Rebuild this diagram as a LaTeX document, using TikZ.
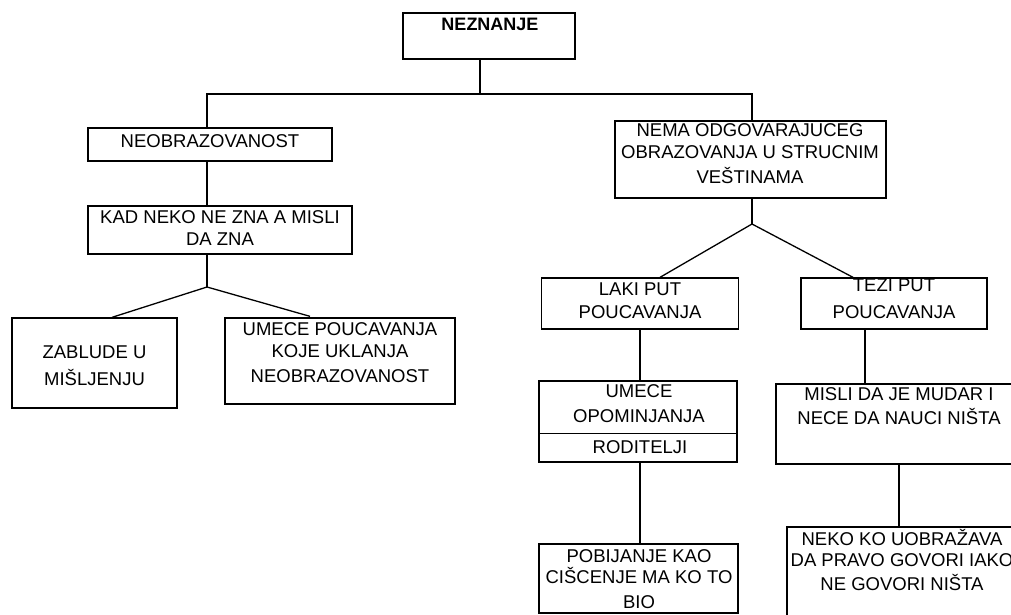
\documentclass[tikz,border=0pt]{standalone}
\usepackage{fontspec}
\setmainfont{Liberation Sans}
\begin{document}
\begin{tikzpicture}[x=1pt, y=-1pt, line width=1.3pt]

      \tikzset{box/.style={draw, rectangle, inner sep=0pt},
               lbl/.style={align=center, inner sep=0pt, font=\fontsize{18.5}{22}\selectfont}}
      \useasboundingbox (0,0) rectangle (1011,615);
%% Boxes
      	\node[box, minimum width=172, minimum height=46] (neznanje) at (489,36) {};
      	\node[box, minimum width=244, minimum height=33] (neobr) at (210,144.5) {};
      	\node[box, minimum width=264, minimum height=48] (kad) at (220,230) {};
      	\node[box, minimum width=165, minimum height=90] (zablude) at (94.5,363) {};
      	\node[box, minimum width=230, minimum height=86] (umece) at (340,361) {};
      	\node[box, minimum width=271, minimum height=77] (nema) at (750.5,159.5) {};
      	\node[box, minimum width=197, minimum height=51] (laki) at (640,303.5) {};
      	\node[box, minimum width=186, minimum height=51] (tezi) at (894,303.5) {};
      	\node[box, minimum width=198, minimum height=81] (opomin) at (638,421.5) {};
      	\node[box, minimum width=246, minimum height=80] (misli) at (899,424) {};
      	\node[box, minimum width=199, minimum height=69] (pobij) at (638.5,578.5) {};
      	\node[box, minimum width=230, minimum height=113] (neko) at (902,583.5) {};
      	\draw ([yshift=-53pt]opomin.north west) -- ([yshift=-53pt]opomin.north east);
%% Texts
      	\node[lbl, font=\fontsize{18}{22}\selectfont\bfseries] (t-neznanje) at (490,24.5) {NEZNANJE};
      	\node[lbl] (t-neobr) at (210,141.5) {NEOBRAZOVANOST};
      	\node[lbl] (t-kad) at (220,228.5) {KAD NEKO NE ZNA A MISLI\\DA ZNA};
      	\node[lbl] (t-zablude) at (94.5,365.75) {ZABLUDE U\\[4.5pt]MIŠLJENJU};
      	\node[lbl] (t-umece) at (340,352.5) {UMECE POUCAVANJA\\KOJE UKLANJA\\[3pt]NEOBRAZOVANOST};
      	\node[lbl] (t-nema) at (750,153.5) {NEMA ODGOVARAJUCEG\\OBRAZOVANJA U STRUCNIM\\[3pt]VEŠTINAMA};
      	\node[lbl] (t-laki) at (640,301) {LAKI PUT\\[1pt]POUCAVANJA};
      	\node[lbl] (t-tezi) at (894,299) {TEZI PUT\\[5pt]POUCAVANJA};
      	\node[lbl] (t-opomin) at (639,403.75) {UMECE\\[3.5pt]OPOMINJANJA};
      	\node[lbl] (t-roditelji) at (640,447.5) {RODITELJI};
      	\node[lbl] (t-misli) at (899,406.5) {MISLI DA JE MUDAR I\\[2pt]NECE DA NAUCI NIŠTA};
      	\node[lbl] (t-pobij) at (639,579) {POBIJANJE KAO\\[-1pt]CIŠCENJE MA KO TO\\[3pt]BIO};
      	\node[lbl] (t-neko) at (902,559.5) {NEKO KO UOBRAŽAVA\\[-1pt]DA PRAVO GOVORI IAKO\\[2pt]NE GOVORI NIŠTA};
%% Connectors
      	\coordinate (j0) at (480,94);
      	\coordinate (jl) at (207,94);
      	\coordinate (jr) at (752,94);
      	\coordinate (fk) at (207,287);
      	\coordinate (fn) at (752,224);
		\draw (neznanje.south -| j0) -- (j0);
		\draw (neobr.north -| jl) -- (jl) -- (jr) -- (nema.north -| jr);
		\draw (neobr.south -| jl) -- (kad.north -| jl);
		\draw (kad.south -| fk) -- (fk);
		\draw (fk) -- ([xshift=17.5pt]zablude.north);
		\draw (fk) -- ([xshift=-30pt, yshift=1pt]umece.north);
		\draw (nema.south -| fn) -- (fn);
		\draw (fn) -- ([xshift=20pt]laki.north);
		\draw (fn) -- ([xshift=-41pt]tezi.north);
		\draw (laki.south) -- (opomin.north -| laki.south);
		\draw ([xshift=-29pt]tezi.south) -- ([xshift=-29pt]tezi.south |- misli.north);
		\draw (opomin.south -| laki.south) -- (pobij.north -| laki.south);
		\draw (misli.south) -- (neko.north -| misli.south);

	\end{tikzpicture}
\end{document}
